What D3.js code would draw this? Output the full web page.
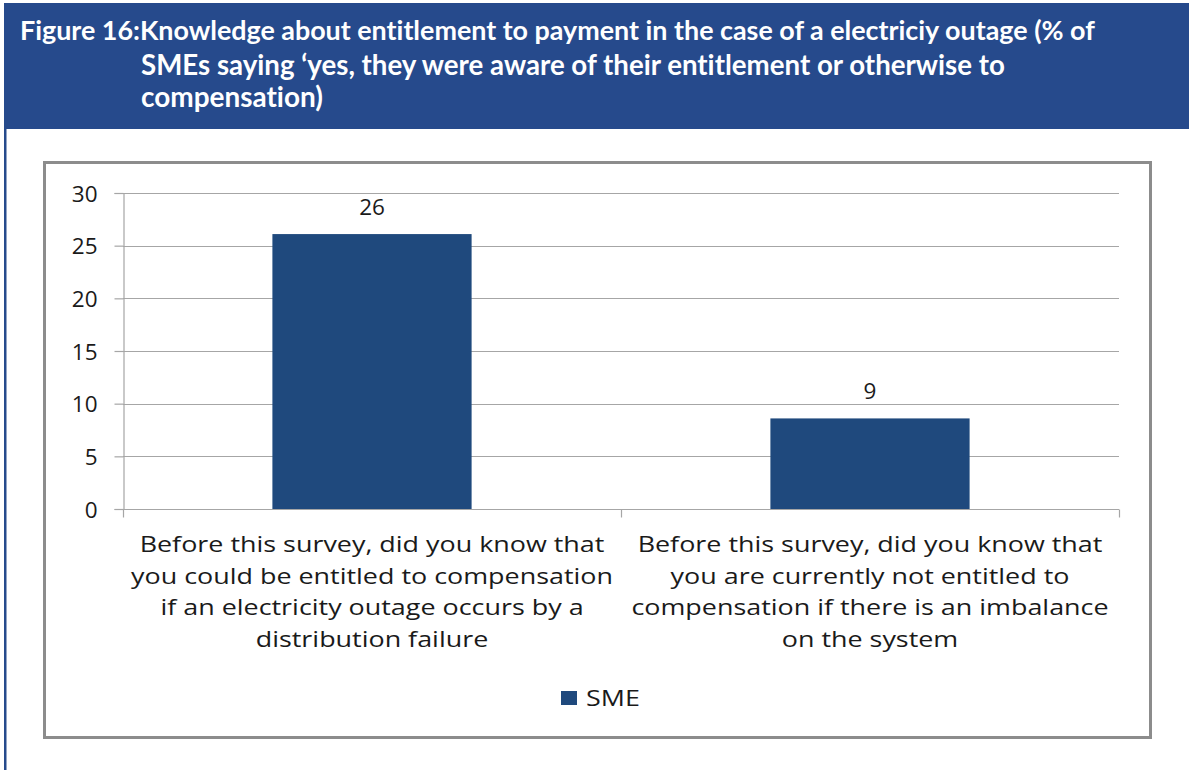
<!DOCTYPE html>
<html>
<head>
<meta charset="utf-8">
<script src="https://cdn.jsdelivr.net/npm/d3@7"></script>
<style>
  html, body { margin: 0; padding: 0; background: #fff; }
  svg { display: block; }
  text { font-variant-ligatures: none; font-feature-settings: "liga" 0; }
</style>
</head>
<body>
<svg id="chart" width="1189" height="770"></svg>
<script>
// Survey data: share of SMEs answering "yes"
const categories = [
  ["Before this survey, did you know that", "you could be entitled to compensation", "if an electricity outage occurs by a", "distribution failure"],
  ["Before this survey, did you know that", "you are currently not entitled to", "compensation if there is an imbalance", "on the system"]
];
const smeValues = [26.1, 8.6];
const yTicks = [0, 5, 10, 15, 20, 25, 30];
const seriesName = "SME";
const titleLines = [
  "Figure 16:Knowledge about entitlement to payment in the case of a electriciy outage (% of",
  "SMEs saying \u2018yes, they were aware of their entitlement or otherwise to",
  "compensation)"
];

const TITLE_FONT = "Lato, 'Open Sans', sans-serif";
const FONT = "'Open Sans', 'Noto Sans', sans-serif";
const svg = d3.select("#chart");

// Scale a text element's font size so it spans the given width
function fitWidth(el, base, target) {
  const w = el.node().getComputedTextLength();
  const fs = base * target / w;
  el.attr("font-size", fs);
  return fs;
}

// Header banner and the blue page rule on the left
const blue = "#264a8c";
svg.append("rect").attr("x", 4).attr("y", 3).attr("width", 1185).attr("height", 126).attr("fill", blue);
svg.append("rect").attr("x", 4).attr("y", 3).attr("width", 2.5).attr("height", 767).attr("fill", blue);

// Title, fitted to the width of each printed line
const titleX = [20, 141, 141];
const titleY = [40, 75, 107];
const titleW = [1075, 864, 182];
titleLines.forEach((t, i) => {
  const el = svg.append("text")
    .attr("x", titleX[i]).attr("y", titleY[i])
    .attr("fill", "#fff").attr("font-family", TITLE_FONT)
    .attr("font-weight", "bold").attr("font-size", 22)
    .text(t);
  fitWidth(el, 22, titleW[i]);
});

// Chart frame
svg.append("rect")
  .attr("x", 44.5).attr("y", 162.5).attr("width", 1106).attr("height", 575)
  .attr("fill", "#fff").attr("stroke", "#8c8c8c").attr("stroke-width", 3);

// Plot area
const plot = { left: 123, right: 1119, top: 193, bottom: 509 };
const x = d3.scaleBand().domain(d3.range(categories.length)).range([plot.left, plot.right]).padding(0);
const y = d3.scaleLinear().domain([0, 30]).range([plot.bottom, plot.top]);
const gridColor = "#a6a6a6";
const textColor = "#1a1a1a";

// Horizontal gridlines
svg.append("g").selectAll("line").data(yTicks.filter(d => d > 0)).join("line")
  .attr("x1", plot.left).attr("x2", plot.right)
  .attr("y1", d => Math.round(y(d)) + 0.5).attr("y2", d => Math.round(y(d)) + 0.5)
  .attr("stroke", gridColor).attr("stroke-width", 1.2);

// Y axis
const yAxis = svg.append("g")
  .attr("transform", `translate(${plot.left + 0.5},0)`)
  .call(d3.axisLeft(y).tickValues(yTicks).tickSize(9).tickPadding(17));
yAxis.select(".domain").attr("stroke", gridColor).attr("stroke-width", 1.2);
yAxis.selectAll(".tick line").attr("stroke", gridColor).attr("stroke-width", 1.2);
yAxis.selectAll(".tick text").attr("font-family", FONT).attr("font-size", 22.5).attr("fill", textColor)
  .attr("dy", "0.36em");

// Bars
const barW = x.bandwidth() * 0.4;
svg.append("g").selectAll("rect").data(smeValues).join("rect")
  .attr("x", (d, i) => x(i) + (x.bandwidth() - barW) / 2)
  .attr("width", barW)
  .attr("y", d => y(d))
  .attr("height", d => y(0) - y(d))
  .attr("fill", "#1f497d");

// X axis with category boundary ticks
const xAxisG = svg.append("g").attr("transform", `translate(0,${plot.bottom + 0.5})`);
xAxisG.append("line").attr("x1", plot.left).attr("x2", plot.right)
  .attr("stroke", gridColor).attr("stroke-width", 1.2);
const bounds = d3.range(categories.length + 1).map(i => i === categories.length ? plot.right : x(i));
xAxisG.selectAll("line.tk").data(bounds).join("line").attr("class", "tk")
  .attr("x1", d => d + 0.5).attr("x2", d => d + 0.5).attr("y1", 0).attr("y2", 8)
  .attr("stroke", gridColor).attr("stroke-width", 1.2);

// Value labels
svg.append("g").selectAll("text").data(smeValues).join("text")
  .attr("x", (d, i) => x(i) + x.bandwidth() / 2)
  .attr("y", d => y(d) - 19)
  .attr("text-anchor", "middle")
  .attr("font-family", FONT).attr("font-size", 22.5).attr("fill", textColor)
  .text(d => d3.format(".0f")(d));

// Category labels: 22px type, widened slightly so the first line spans 465px
const catSize = 22;
const probe = svg.append("text").attr("font-family", FONT).attr("font-size", catSize).text(categories[0][0]);
const stretch = 465 / probe.node().getComputedTextLength();
probe.remove();
categories.forEach((lines, i) => {
  const g = svg.append("g")
    .attr("transform", `translate(${x(i) + x.bandwidth() / 2},0) scale(${stretch},1)`);
  lines.forEach((ln, j) => {
    g.append("text")
      .attr("x", 0).attr("y", 552 + j * 31.6)
      .attr("text-anchor", "middle")
      .attr("font-family", FONT).attr("font-size", catSize).attr("fill", textColor)
      .text(ln);
  });
});

// Legend
const lg = svg.append("g").attr("transform", "translate(561,691)");
lg.append("rect").attr("x", 0).attr("y", 0).attr("width", 16).attr("height", 14).attr("fill", "#1f497d");
lg.append("text").attr("x", 25).attr("y", 15)
  .attr("font-family", FONT).attr("font-size", catSize).attr("fill", textColor)
  .attr("transform", `translate(25,0) scale(${stretch},1) translate(-25,0)`)
  .text(seriesName);
</script>
</body>
</html>
